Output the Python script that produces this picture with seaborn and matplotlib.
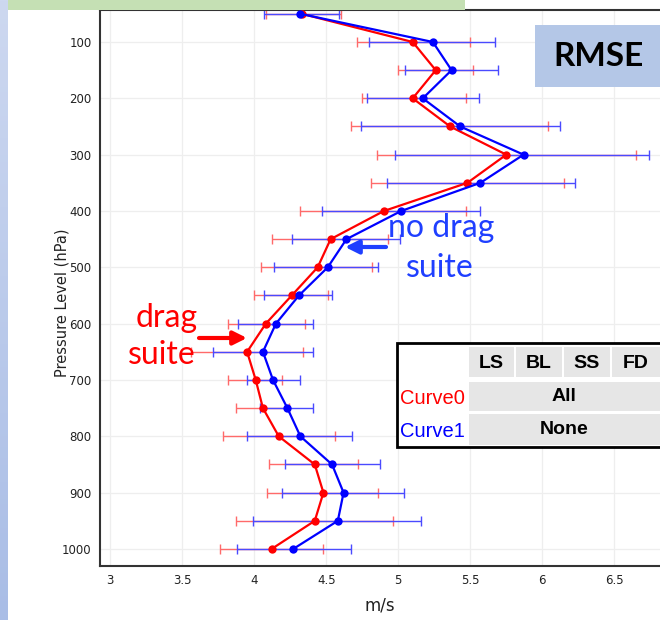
import numpy as np
import pandas as pd
import matplotlib
matplotlib.use("Agg")
import matplotlib.pyplot as plt
from matplotlib.patches import Rectangle
import seaborn as sns

# ---------------- data ----------------
levels = [50, 100, 150, 200, 250, 300, 350, 400, 450, 500,
          550, 600, 650, 700, 750, 800, 850, 900, 950, 1000]

curve0 = [4.33, 5.10, 5.26, 5.10, 5.36, 5.75, 5.48, 4.90, 4.53, 4.44,
          4.26, 4.08, 3.95, 4.01, 4.06, 4.17, 4.42, 4.48, 4.42, 4.12]
curve0_lo = [4.08, 4.71, 5.00, 4.75, 4.67, 4.85, 4.81, 4.32, 4.12, 4.05,
             4.00, 3.82, 3.56, 3.82, 3.87, 3.78, 4.10, 4.09, 3.87, 3.76]
curve0_hi = [4.60, 5.50, 5.52, 5.47, 6.04, 6.65, 6.15, 5.47, 4.93, 4.82,
             4.51, 4.35, 4.34, 4.19, 4.24, 4.56, 4.72, 4.86, 4.96, 4.48]

curve1 = [4.32, 5.24, 5.37, 5.17, 5.43, 5.87, 5.57, 5.02, 4.64, 4.51,
          4.31, 4.15, 4.06, 4.13, 4.23, 4.32, 4.54, 4.62, 4.58, 4.27]
curve1_lo = [4.07, 4.80, 5.05, 4.78, 4.74, 4.98, 4.92, 4.47, 4.26, 4.14,
             4.07, 3.89, 3.71, 3.95, 4.04, 3.95, 4.21, 4.19, 3.99, 3.88]
curve1_hi = [4.59, 5.67, 5.69, 5.56, 6.12, 6.74, 6.23, 5.57, 5.01, 4.86,
             4.54, 4.41, 4.41, 4.32, 4.41, 4.68, 4.87, 5.04, 5.16, 4.67]

curve_names = ["Curve0", "Curve1"]
curve_colors = ["#ff0000", "#0000ff"]
x_ticks = [3, 3.5, 4, 4.5, 5, 5.5, 6, 6.5]
x_tick_labels = ["3", "3.5", "4", "4.5", "5", "5.5", "6", "6.5"]
y_ticks = [100, 200, 300, 400, 500, 600, 700, 800, 900, 1000]
header_labels = ["LS", "BL", "SS", "FD"]
row_values = ["All", "None"]

# ---------------- figure ----------------
sns.set_theme(style="white")
plt.rcParams["font.family"] = ["DejaVu Sans"]

W, H = 660, 620
fig = plt.figure(figsize=(W / 100, H / 100), dpi=100)
fig.patch.set_facecolor("white")


def px(x, y):
    return (x / W, 1 - y / H)


ax_left, ax_right, ax_top, ax_bot = 100, 660, 10, 566
ax = fig.add_axes([ax_left / W, 1 - ax_bot / H, (ax_right - ax_left) / W,
                   (ax_bot - ax_top) / H])

df = pd.DataFrame({
    "level": levels * 2,
    "value": curve0 + curve1,
    "curve": [curve_names[0]] * len(levels) + [curve_names[1]] * len(levels),
})

series = [(curve0, curve0_lo, curve0_hi), (curve1, curve1_lo, curve1_hi)]
bar_colors = ["#ff6a6a", "#4a4aff"]
for (vals, lo, hi), col in zip(series, bar_colors):
    v = np.array(vals)
    ax.errorbar(v, levels, xerr=[v - np.array(lo), np.array(hi) - v],
                fmt="none", ecolor=col, elinewidth=1.0, capsize=3.5,
                capthick=1.0, zorder=2)

sns.lineplot(data=df, x="value", y="level", hue="curve",
             palette=dict(zip(curve_names, curve_colors)), sort=False,
             orient="y", marker="o", markersize=6, markeredgewidth=0,
             linewidth=1.6, legend=False, ax=ax, zorder=3)

ax.set_xlim(2.9285, 6.8174)
ax.set_ylim(1030.2, 43.2)
ax.set_xticks(x_ticks)
ax.set_xticklabels(x_tick_labels)
ax.set_yticks(y_ticks)
ax.set_yticklabels([str(t) for t in y_ticks])
ax.tick_params(axis="both", length=0, labelsize=8.5, labelcolor="#222222",
               pad=6)
ax.grid(True, color="#eeeeee", linewidth=0.9)
ax.set_axisbelow(True)
ax.set_xlabel("m/s", fontsize=12, color="#222222")
ax.set_ylabel("Pressure Level (hPa)", fontsize=10.5, color="#222222")
ax.xaxis.set_label_coords(0.5, -(605 - ax_bot) / (ax_bot - ax_top))
ax.xaxis.label.set_va("center")
ax.yaxis.set_label_coords(-(ax_left - 62) / (ax_right - ax_left),
                          (ax_bot - 303) / (ax_bot - ax_top))
ax.yaxis.label.set_va("center")
for s in ["left", "bottom", "top"]:
    ax.spines[s].set_color("#333333")
    ax.spines[s].set_linewidth(1.5)
ax.spines["right"].set_visible(False)

# ---------------- decorations ----------------
strip = fig.add_axes([0, 0, 8 / W, 1])
grad = np.linspace(0, 1, 256).reshape(-1, 1)
strip.imshow(grad, aspect="auto",
             cmap=matplotlib.colors.LinearSegmentedColormap.from_list(
                 "g", ["#cdd8f0", "#a9bde6"]))
strip.axis("off")

fig.add_artist(Rectangle(px(8, 10), 457 / W, 10 / H, transform=fig.transFigure,
                         facecolor="#c5e0b4", edgecolor="none", zorder=10))

fig.add_artist(Rectangle(px(535, 87), 130 / W, 62 / H,
                         transform=fig.transFigure, facecolor="#b4c7e7",
                         edgecolor="none", zorder=10))
fig.text(*px(598, 57), "RMSE", ha="center", va="center", fontsize=24,
         fontweight="bold", family=["Lato", "DejaVu Sans"], color="#000000",
         zorder=11)

ann_blue = "#1f3fff"
fig.text(*px(441, 228), "no drag", ha="center", va="center", fontsize=23,
         family=["Lato", "DejaVu Sans"], color=ann_blue, zorder=11)
fig.text(*px(440, 268), "suite", ha="center", va="center", fontsize=23,
         family=["Lato", "DejaVu Sans"], color=ann_blue, zorder=11)
fig.text(*px(167, 318), "drag", ha="center", va="center", fontsize=23,
         family=["Lato", "DejaVu Sans"], color="#ff0000", zorder=11)
fig.text(*px(162, 355), "suite", ha="center", va="center", fontsize=23,
         family=["Lato", "DejaVu Sans"], color="#ff0000", zorder=11)
ax.annotate("", xy=px(345, 247), xytext=px(386, 247),
            xycoords="figure fraction", textcoords="figure fraction",
            arrowprops=dict(arrowstyle="-|>", color=ann_blue, lw=3,
                            mutation_scale=20, shrinkA=0, shrinkB=0),
            zorder=11)
ax.annotate("", xy=px(247, 338), xytext=px(199, 338),
            xycoords="figure fraction", textcoords="figure fraction",
            arrowprops=dict(arrowstyle="-|>", color="#ff0000", lw=3,
                            mutation_scale=20, shrinkA=0, shrinkB=0),
            zorder=11)

tfont = ["Liberation Sans", "DejaVu Sans"]
fig.add_artist(Rectangle(px(397, 447), 270 / W, 104 / H,
                         transform=fig.transFigure, facecolor="white",
                         edgecolor="#000000", linewidth=2, zorder=12))
col_edges = [(469, 514), (516, 562), (564, 610), (612, 668)]
for (x0, x1), lab in zip(col_edges, header_labels):
    fig.add_artist(Rectangle(px(x0, 377), (x1 - x0) / W, 30 / H,
                             transform=fig.transFigure, facecolor="#e6e6e6",
                             edgecolor="none", zorder=13))
    fig.text(*px((x0 + x1) / 2 if x1 < 660 else 636, 363), lab, ha="center",
             va="center", fontsize=14, fontweight="bold", family=tfont,
             color="#000000", zorder=14)
row_spans = [(382, 411), (414, 445)]
for (y0, y1), val, name, col in zip(row_spans, row_values, curve_names,
                                     curve_colors):
    fig.add_artist(Rectangle(px(469, y1), 199 / W, (y1 - y0) / H,
                             transform=fig.transFigure, facecolor="#e6e6e6",
                             edgecolor="none", zorder=13))
    fig.text(*px(564, (y0 + y1) / 2), val, ha="center", va="center",
             fontsize=14, fontweight="bold", family=tfont, color="#000000",
             zorder=14)
    fig.text(*px(465, (y0 + y1) / 2 + 2), name, ha="right", va="center",
             fontsize=14.5, family=tfont, color=col, zorder=14)

fig.savefig("out.png", dpi=100, facecolor="white")
